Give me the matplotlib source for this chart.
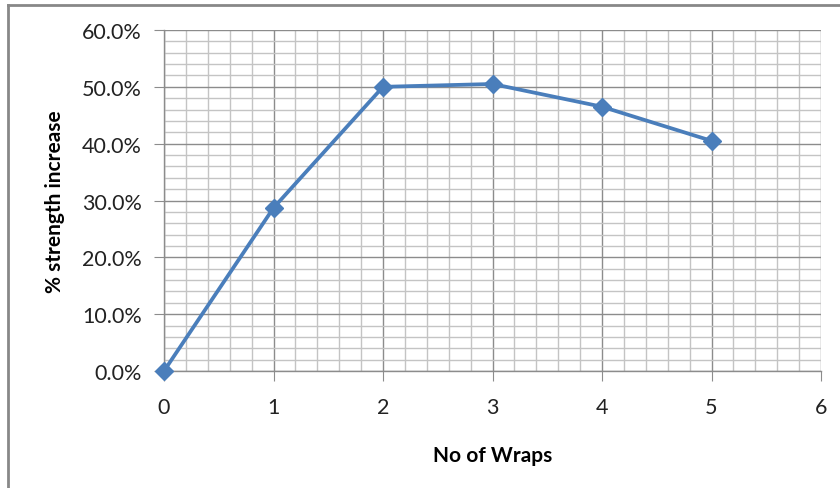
import matplotlib.pyplot as plt
from matplotlib.ticker import MultipleLocator, PercentFormatter
from matplotlib.lines import Line2D

wraps = [0, 1, 2, 3, 4, 5]
strength_increase = [0.0, 28.7, 50.0, 50.5, 46.5, 40.5]

plt.rcParams['font.family'] = ['Lato', 'DejaVu Sans']

fig = plt.figure(figsize=(8.4, 4.89), dpi=100)
W, H = 840, 489
ax = fig.add_axes([164 / W, 1 - 372 / H, (821 - 164) / W, (372 - 31) / H])

ax.plot(wraps, strength_increase, color='#4A7EBB', linewidth=2.7,
        marker='D', markersize=9, zorder=5, clip_on=False)

ax.set_xlim(0, 6)
ax.set_ylim(0, 60)
ax.xaxis.set_major_locator(MultipleLocator(1))
ax.xaxis.set_minor_locator(MultipleLocator(0.2))
ax.yaxis.set_major_locator(MultipleLocator(10))
ax.yaxis.set_minor_locator(MultipleLocator(2))
ax.yaxis.set_major_formatter(PercentFormatter(decimals=1))

ax.grid(which='major', color='#8c8c8c', linewidth=1.0)
ax.grid(which='minor', color='#c4c4c4', linewidth=1.0)
ax.set_axisbelow(True)

for s in ['top', 'right']:
    ax.spines[s].set_visible(False)
for s in ['left', 'bottom']:
    ax.spines[s].set_color('#8c8c8c')
    ax.spines[s].set_linewidth(1.0)

ax.tick_params(which='major', length=7, color='#8c8c8c', labelsize=15.5,
               labelcolor='#222222')
ax.tick_params(axis='x', pad=12)
ax.tick_params(axis='y', pad=9)
ax.tick_params(which='minor', length=0)

ax.set_xlabel('No of Wraps', fontsize=15, fontweight='bold', labelpad=20)
ax.set_ylabel('% strength increase', fontsize=15, fontweight='bold', labelpad=12)

# outer chart frame (top and left edges visible)
fig.add_artist(Line2D([8 / W, 1], [1 - 6 / H, 1 - 6 / H], color='#888888', linewidth=2))
fig.add_artist(Line2D([8 / W, 8 / W], [0, 1 - 6 / H], color='#888888', linewidth=2))

fig.savefig('out.png', dpi=100)
